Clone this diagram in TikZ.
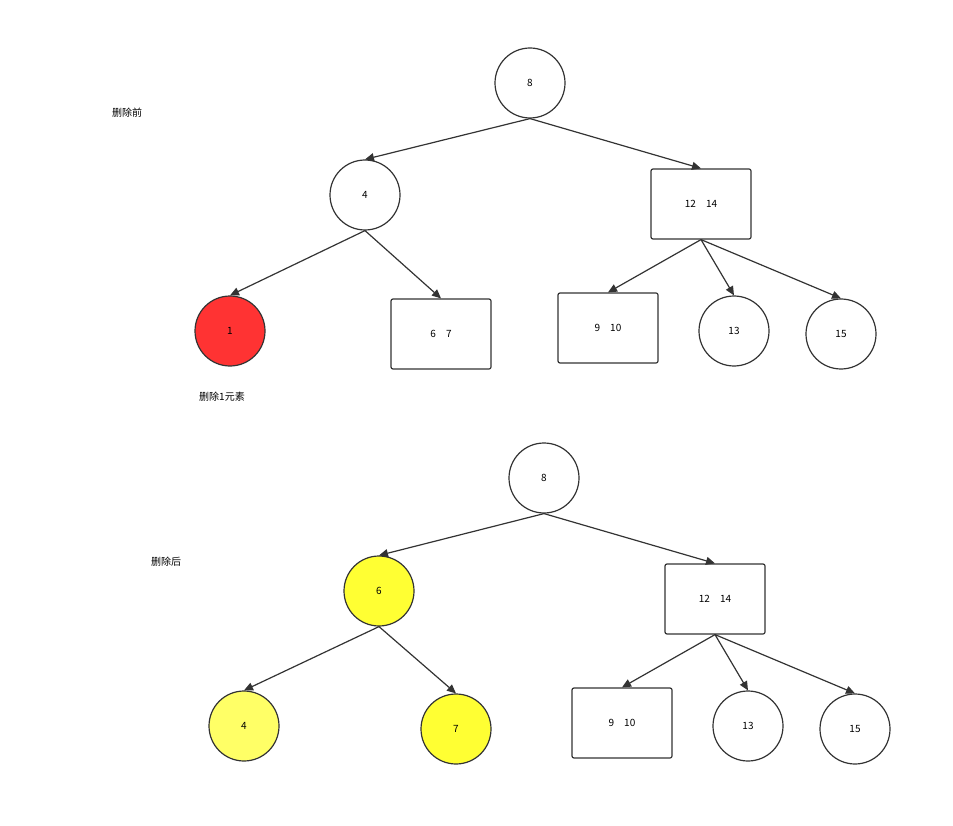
\documentclass[tikz,border=0pt]{standalone}
\usepackage{fontspec}
\setmainfont{Noto Sans CJK SC}
\usetikzlibrary{arrows.meta}
\begin{document}
\begin{tikzpicture}[x=1pt,y=-1pt,
  c/.style={circle,draw=black!80,line width=1.2pt,minimum size=70pt,inner sep=0pt,font=\fontsize{10}{12}\selectfont},
  r/.style={rectangle,rounded corners=2pt,draw=black!80,line width=1.2pt,minimum width=100pt,minimum height=70pt,inner sep=0pt,font=\fontsize{10}{12}\selectfont},
  e/.style={draw=black!80,line width=1.2pt,-{Triangle[length=9pt,width=8pt]}},
  lbl/.style={font=\fontsize{10}{12}\selectfont}]
\useasboundingbox (0,0) rectangle (953,826);
% top
\node[c] (a8) at (530,83) {8};
\node[c] (a4) at (365,195) {4};
\node[r] (a1214) at (701,204) {12\quad14};
\node[c,fill={rgb,255:red,255;green,51;blue,51}] (a1) at (230,331) {1};
\node[r] (a67) at (441,334) {6\quad7};
\node[r] (a910) at (608,328) {9\quad10};
\node[c] (a13) at (734,331) {13};
\node[c] (a15) at (841,334) {15};
\node[lbl] (t1) at (127,113) {删除前};
\node[lbl] (t2) at (222,397) {删除1元素};
\draw[e] (a8.south) -- (a4.north);
\draw[e] (a8.south) -- (a1214.north);
\draw[e] (a4.south) -- (a1.north);
\draw[e] (a4.south) -- (a67.north);
\draw[e] (a1214.south) -- (a910.north);
\draw[e] (a1214.south) -- (a13.north);
\draw[e] (a1214.south) -- (a15.north);
% bottom
\node[c] (b8) at (544,478) {8};
\node[c,fill={rgb,255:red,255;green,255;blue,51}] (b6) at (379,591) {6};
\node[r] (b1214) at (715,599) {12\quad14};
\node[c,fill={rgb,255:red,255;green,255;blue,102}] (b4) at (244,726) {4};
\node[c,fill={rgb,255:red,255;green,255;blue,51}] (b7) at (456,729) {7};
\node[r] (b910) at (622,723) {9\quad10};
\node[c] (b13) at (748,726) {13};
\node[c] (b15) at (855,729) {15};
\node[lbl] (t3) at (166,562) {删除后};
\draw[e] (b8.south) -- (b6.north);
\draw[e] (b8.south) -- (b1214.north);
\draw[e] (b6.south) -- (b4.north);
\draw[e] (b6.south) -- (b7.north);
\draw[e] (b1214.south) -- (b910.north);
\draw[e] (b1214.south) -- (b13.north);
\draw[e] (b1214.south) -- (b15.north);
\end{tikzpicture}
\end{document}
